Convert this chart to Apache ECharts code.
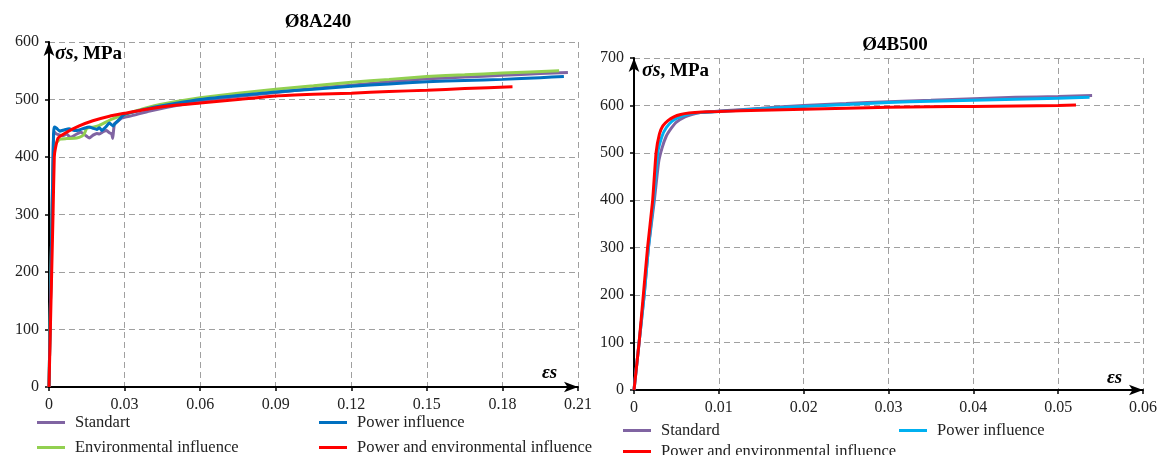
<!DOCTYPE html>
<html>
<head>
<meta charset="utf-8">
<script src="https://cdn.jsdelivr.net/npm/echarts@6/dist/echarts.min.js"></script>
<style>
html,body{margin:0;padding:0;background:#fff;}
#chart{width:1168px;height:455px;}
</style>
</head>
<body>
<div id="chart"></div>
<script>
// ---------- Titles & labels ----------
const titleLeft = 'Ø8A240';
const titleRight = 'Ø4B500';
const leftSeriesNames = ['Standart', 'Power influence', 'Environmental influence', 'Power and environmental influence'];
const rightSeriesNames = ['Standard', 'Power influence', 'Power and environmental influence'];

// ---------- Left chart (Ø8A240): [strain, stress MPa] ----------
const a240Standart = [[0,0],[0.0012,300],[0.0017,420],[0.002,444],[0.003,440],[0.0045,438],[0.0055,437],[0.007,440],[0.0085,434],[0.0095,436],[0.011,440],[0.0125,443],[0.0135,441],[0.015,436],[0.016,433],[0.0175,438],[0.019,441],[0.02,440],[0.0215,444],[0.0229,446],[0.024,442],[0.0249,440],[0.0253,432],[0.0256,445],[0.026,458],[0.027,461],[0.029,468],[0.033,472],[0.04,480],[0.05,489],[0.06,497],[0.075,505],[0.09,512],[0.105,519],[0.12,525],[0.135,531],[0.15,536],[0.165,539],[0.18,542],[0.195,545],[0.206,547]];
const a240Power = [[0,0],[0.0012,300],[0.0018,440],[0.0021,452],[0.003,450],[0.0043,445],[0.006,447],[0.008,449],[0.01,446],[0.012,447],[0.014,450],[0.016,452],[0.0174,450],[0.019,448],[0.02,451],[0.021,446],[0.0225,452],[0.024,459],[0.0255,454],[0.026,457],[0.028,466],[0.03,474],[0.04,485],[0.05,493],[0.06,500],[0.075,507],[0.09,513],[0.105,518],[0.12,523],[0.135,527],[0.15,531],[0.165,533],[0.18,535],[0.195,538],[0.2044,540]];
const a240Env = [[0,0],[0.0012,300],[0.0018,405],[0.0022,420],[0.0043,431],[0.007,432],[0.011,433],[0.013,436],[0.014,440],[0.015,450],[0.0175,452],[0.02,455],[0.025,466],[0.03,474],[0.04,487],[0.05,496],[0.06,503],[0.075,511],[0.09,518],[0.105,524],[0.12,530],[0.135,535],[0.15,540],[0.165,543],[0.18,546],[0.2025,550]];
const a240PowerEnv = [[0,0],[0.0016,300],[0.0021,400],[0.0025,414],[0.0036,433],[0.007,443],[0.012,454],[0.0174,463],[0.024,471],[0.03,476],[0.04,484],[0.05,490],[0.06,494],[0.075,500],[0.09,506],[0.105,509],[0.12,511],[0.135,514],[0.15,516],[0.165,519],[0.184,522]];

// ---------- Right chart (Ø4B500) ----------
const b500Standard = [[0,0],[0.0006,100],[0.0012,200],[0.0017,300],[0.0024,400],[0.0029,480],[0.0033,510],[0.0038,535],[0.0044,552],[0.005,565],[0.006,576],[0.0068,581],[0.0078,585],[0.01,588],[0.015,594],[0.02,600],[0.025,604],[0.03,608],[0.035,611],[0.04,614],[0.045,617],[0.05,619],[0.054,621]];
const b500Power = [[0,0],[0.0006,100],[0.0012,200],[0.0017,300],[0.0023,400],[0.0028,500],[0.0033,535],[0.0038,553],[0.0045,567],[0.0054,576],[0.0065,582],[0.0078,585],[0.01,587],[0.015,593],[0.02,598],[0.025,602],[0.03,606],[0.035,609],[0.04,611],[0.045,613],[0.05,615],[0.0537,617]];
const b500PowerEnv = [[0,0],[0.0006,100],[0.0011,200],[0.0016,300],[0.0022,400],[0.0026,500],[0.003,540],[0.0034,557],[0.004,568],[0.0047,576],[0.0055,581],[0.0065,584],[0.008,586],[0.01,587],[0.015,590],[0.02,592],[0.025,594],[0.03,596],[0.035,597],[0.04,598],[0.045,599],[0.05,600],[0.0521,601]];

// ---------- Axis ranges ----------
const leftX = {min: 0, max: 0.21, interval: 0.03};
const leftY = {min: 0, max: 600, interval: 100};
const rightX = {min: 0, max: 0.06, interval: 0.01};
const rightY = {min: 0, max: 700, interval: 100};

const C = {purple:'#8064A2', blue:'#0070C0', green:'#92D050', red:'#FF0000', cyan:'#00B0F0'};
const FONT = 'Liberation Serif';

function xAxis(idx, r){
  return {
    type:'value', gridIndex: idx, min:r.min, max:r.max, interval:r.interval,
    axisLine:{show:true, onZero:false, symbol:['none','arrow'], symbolSize:[8,14], lineStyle:{color:'#000', width:2}},
    axisTick:{show:true, length:4, lineStyle:{color:'#000', width:1.5}},
    axisLabel:{color:'#222', fontFamily:FONT, fontSize:16, margin:10,
      formatter: v => String(Math.round(v*1000)/1000)},
    splitLine:{show:true, lineStyle:{color:'#a0a0a0', type:[6,4], width:1}}
  };
}
function yAxis(idx, r){
  return {
    type:'value', gridIndex: idx, min:r.min, max:r.max, interval:r.interval,
    axisLine:{show:true, onZero:false, symbol:['none','arrow'], symbolSize:[8,14], lineStyle:{color:'#000', width:2}},
    axisTick:{show:true, length:4, lineStyle:{color:'#000', width:1.5}},
    axisLabel:{color:'#222', fontFamily:FONT, fontSize:16, margin:10},
    splitLine:{show:true, lineStyle:{color:'#a0a0a0', type:[6,4], width:1}}
  };
}
function line(name, data, color, idx){
  return {name, type:'line', data, xAxisIndex:idx, yAxisIndex:idx, showSymbol:false, symbol:'none',
    smooth:0.15, lineStyle:{color, width:3}, itemStyle:{color}, emphasis:{disabled:true}};
}
function legend(left, top, data, gap){
  return {left, top, height:80, orient:'vertical', icon:'rect', itemWidth:28, itemHeight:3, itemGap:gap,
    padding:0, selectedMode:false,
    textStyle:{fontFamily:FONT, fontSize:16.5, color:'#222', padding:[0,0,0,5]}, data};
}
const richLbl = {
  i:{fontFamily:FONT, fontSize:20, fontStyle:'italic', fontWeight:'bold', fill:'#000'},
  b:{fontFamily:FONT, fontSize:19, fontWeight:'bold', fill:'#000'}
};

const chart = echarts.init(document.getElementById('chart'), null, {renderer:'canvas'});
chart.setOption({
  animation:false,
  backgroundColor:'#fff',
  title:[
    {text:titleLeft, left:313, top:8, textAlign:'center', textStyle:{fontFamily:FONT, fontSize:19, fontWeight:'bold', color:'#000'}},
    {text:titleRight, left:890, top:31, textAlign:'center', textStyle:{fontFamily:FONT, fontSize:19, fontWeight:'bold', color:'#000'}}
  ],
  grid:[
    {left:49, top:42, width:529, height:345},
    {left:634, top:58, width:509, height:332}
  ],
  xAxis:[xAxis(0,leftX), xAxis(1,rightX)],
  yAxis:[yAxis(0,leftY), yAxis(1,rightY)],
  legend:[
    legend(37, 414, [{name:leftSeriesNames[0]},{name:leftSeriesNames[2]}], 8),
    legend(319, 414, [{name:leftSeriesNames[1], itemStyle:{color:C.blue}},{name:leftSeriesNames[3], itemStyle:{color:C.red}}], 8),
    legend(623, 422, [{name:rightSeriesNames[0]},{name:rightSeriesNames[2], itemStyle:{color:C.red}}], 4),
    legend(899, 422, [{name:rightSeriesNames[1], itemStyle:{color:C.cyan}}], 4)
  ],
  graphic:[
    {type:'text', left:55, top:44, style:{text:'{i|σs}{b|, MPa}', rich:richLbl}},
    {type:'text', left:642, top:61, style:{text:'{i|σs}{b|, MPa}', rich:richLbl}},
    {type:'text', left:542, top:364, style:{text:'εs', fontFamily:FONT, fontSize:19, fontStyle:'italic', fontWeight:'bold', fill:'#000'}},
    {type:'text', left:1107, top:369, style:{text:'εs', fontFamily:FONT, fontSize:19, fontStyle:'italic', fontWeight:'bold', fill:'#000'}}
  ],
  series:[
    line(leftSeriesNames[0], a240Standart, C.purple, 0),
    line(leftSeriesNames[2], a240Env, C.green, 0),
    line(leftSeriesNames[1], a240Power, C.blue, 0),
    line(leftSeriesNames[3], a240PowerEnv, C.red, 0),
    line(rightSeriesNames[0], b500Standard, C.purple, 1),
    line(rightSeriesNames[1], b500Power, C.cyan, 1),
    line(rightSeriesNames[2], b500PowerEnv, C.red, 1)
  ]
});
</script>
</body>
</html>
